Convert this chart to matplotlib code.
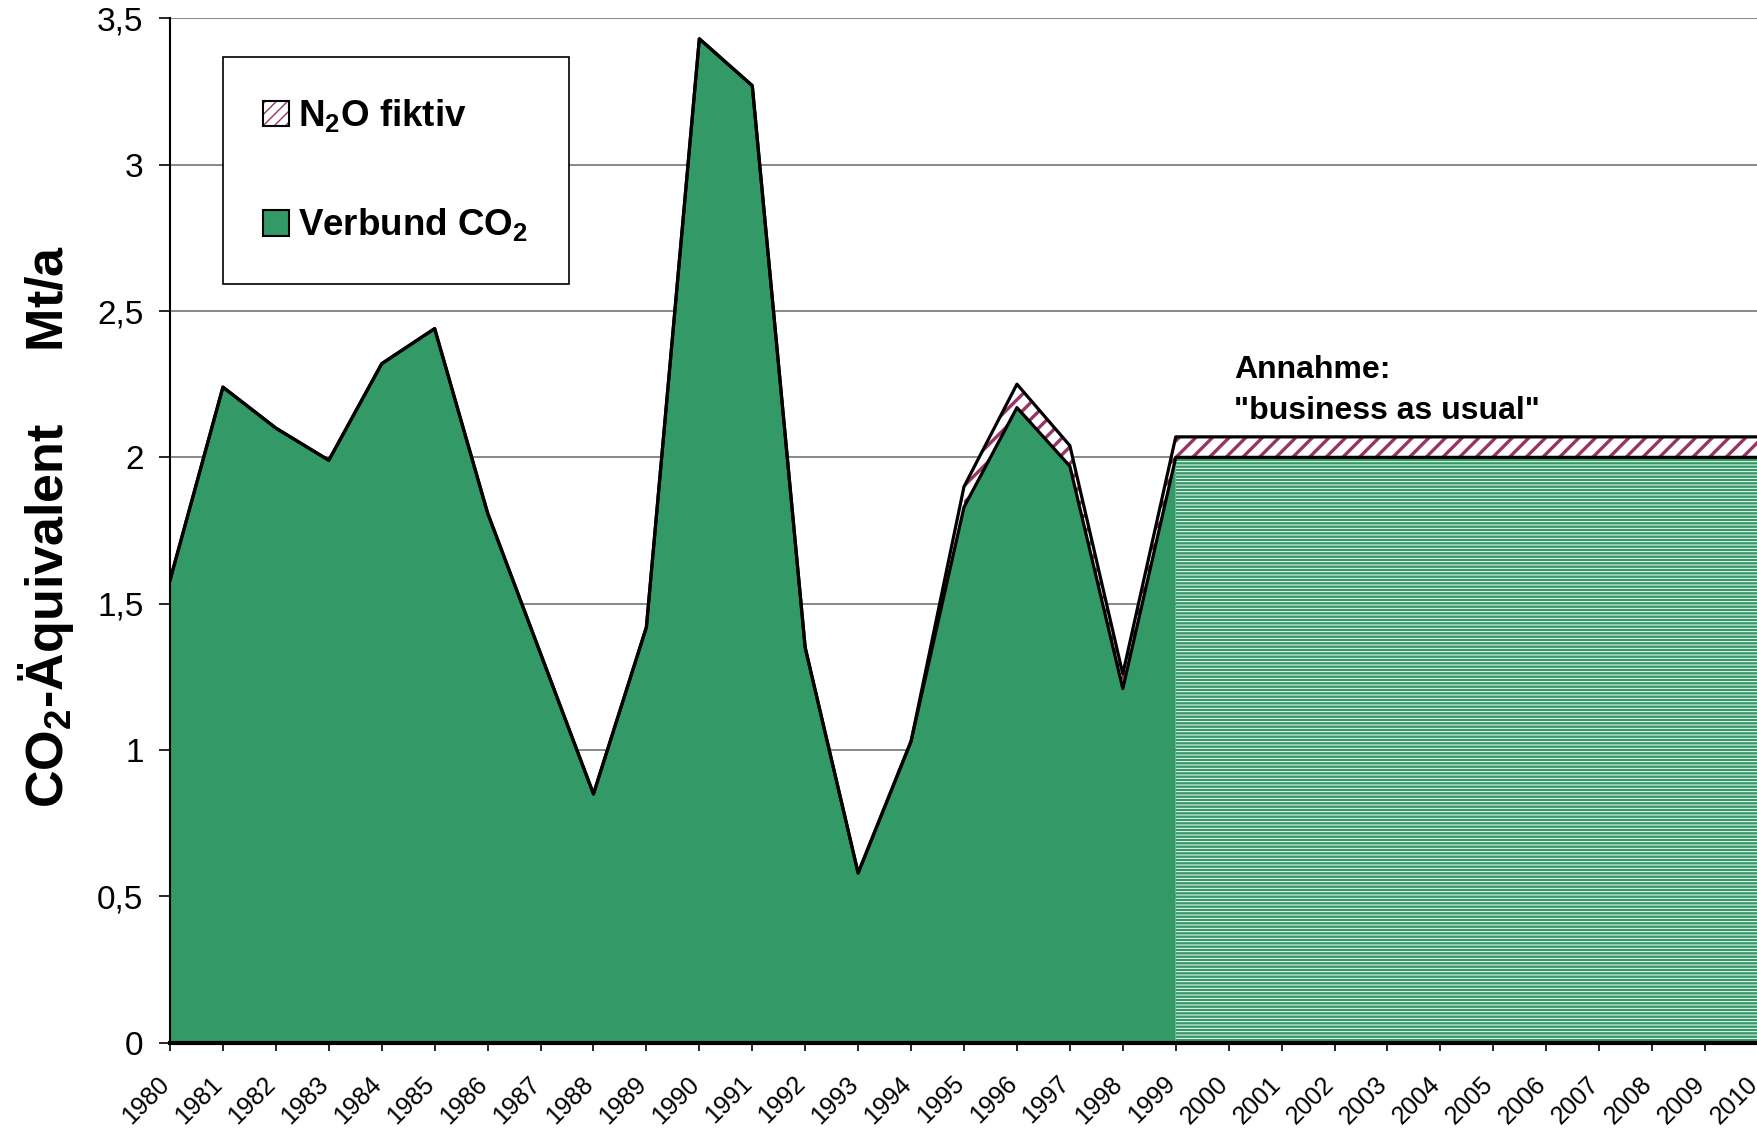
import numpy as np
import matplotlib
matplotlib.use("Agg")
import matplotlib.pyplot as plt
from matplotlib.patches import Patch
from matplotlib.ticker import FuncFormatter, MultipleLocator
from matplotlib.transforms import ScaledTranslation

plt.rcParams['font.family'] = ['Liberation Sans', 'DejaVu Sans']
plt.rcParams['mathtext.fontset'] = 'custom'
plt.rcParams['mathtext.rm'] = 'Liberation Sans'
plt.rcParams['mathtext.bf'] = 'Liberation Sans:bold'

# data
years = list(range(1980, 2011))
co2 = [1.58, 2.24, 2.10, 1.99, 2.32, 2.44, 1.81, 1.33, 0.85, 1.42,
       3.43, 3.27, 1.35, 0.58, 1.03, 1.83, 2.17, 1.97, 1.21, 2.00,
       2.00, 2.00, 2.00, 2.00, 2.00, 2.00, 2.00, 2.00, 2.00, 2.00, 2.00]
n2o = [0, 0, 0, 0, 0, 0, 0, 0, 0, 0,
       0, 0, 0, 0, 0, 0.07, 0.08, 0.07, 0.05, 0.07,
       0.07, 0.07, 0.07, 0.07, 0.07, 0.07, 0.07, 0.07, 0.07, 0.07, 0.07]
last_real = 1999

green = '#339966'
purple = '#993366'

x = np.array(years)
y1 = np.array(co2)
y2 = y1 + np.array(n2o)
past = x <= last_real
future = x >= last_real

fig = plt.figure(figsize=(17.58, 11.30), dpi=100)
ax = fig.add_axes([0.0967, 0.0772, 0.9033, 0.9066])

ax.fill_between(x[past], 0, y1[past], facecolor=green, edgecolor='none', zorder=2)

with plt.rc_context({'hatch.linewidth': 0.7}):
    fut = ax.fill_between(x[future], 0, y1[future], facecolor=green,
                          edgecolor='white', hatch='-----', linewidth=0, zorder=2)
if hasattr(fut, 'set_hatch_linewidth'):
    fut.set_hatch_linewidth(0.7)

with plt.rc_context({'hatch.linewidth': 2.4}):
    nn = ax.fill_between(x, y1, y2, where=y2 > y1,
                         facecolor='white', edgecolor=purple, hatch='//',
                         linewidth=0, zorder=2)
if hasattr(nn, 'set_hatch_linewidth'):
    nn.set_hatch_linewidth(2.4)

ax.plot(x, y2, color='black', lw=2.3, zorder=3)
ax.plot(x, y1, color='black', lw=2.3, zorder=3)

ax.set_xlim(1980, 2009.83)
ax.set_ylim(0, 3.5)
ax.yaxis.set_major_locator(MultipleLocator(0.5))
ax.yaxis.set_major_formatter(FuncFormatter(lambda v, p: f'{v:g}'.replace('.', ',')))
ax.set_xticks(years)
ax.set_xticklabels([str(y) for y in years], rotation=45, ha='right', va='center',
                   rotation_mode='anchor', fontsize=18)
ax.tick_params(axis='y', labelsize=24, length=8, width=1.2, pad=11)
ax.tick_params(axis='x', length=6, width=1.2, pad=21)
shift = ScaledTranslation(-4 / 100, 0, fig.dpi_scale_trans)
for lab in ax.get_xticklabels():
    lab.set_transform(lab.get_transform() + shift)

ax.yaxis.grid(True, color='#7f7f7f', lw=1.3, zorder=0)
ax.set_axisbelow(True)
for s in ['top', 'right']:
    ax.spines[s].set_visible(False)
ax.spines['left'].set_linewidth(1.5)
ax.spines['bottom'].set_linewidth(3)
ax.spines['bottom'].set_zorder(4)

fig.text(46 / 1758, 1 - 526 / 1130,
         r'CO$_\mathbf{2}$-Äquivalent     Mt/a',
         rotation=90, ha='center', va='center', fontsize=37.5, fontweight='bold')

ax.text(2000.1, 2.35, 'Annahme:\n"business as usual"', ha='left', va='top',
        fontsize=23, fontweight='bold', linespacing=1.5)

n2o_handle = (Patch(facecolor='white', edgecolor=purple, hatch='///', lw=0),
              Patch(facecolor='none', edgecolor='black', lw=1.5))
co2_handle = Patch(facecolor=green, edgecolor='black', lw=1.5)
leg = ax.legend([n2o_handle, co2_handle],
                [r'N$_\mathbf{2}$O fiktiv', r'Verbund CO$_\mathbf{2}$'],
                loc='upper left', bbox_to_anchor=(223 / 1758, 1 - 57 / 1130),
                bbox_transform=fig.transFigure, borderaxespad=0,
                prop={'size': 26.5, 'weight': 'bold'}, frameon=True,
                fancybox=False, edgecolor='black', framealpha=1,
                borderpad=1.1, labelspacing=1.95, handlelength=0.7,
                handleheight=0.7, handletextpad=0.25)
leg.get_frame().set_linewidth(1.2)
leg.set_zorder(5)

fig.savefig('out.png', dpi=100)
